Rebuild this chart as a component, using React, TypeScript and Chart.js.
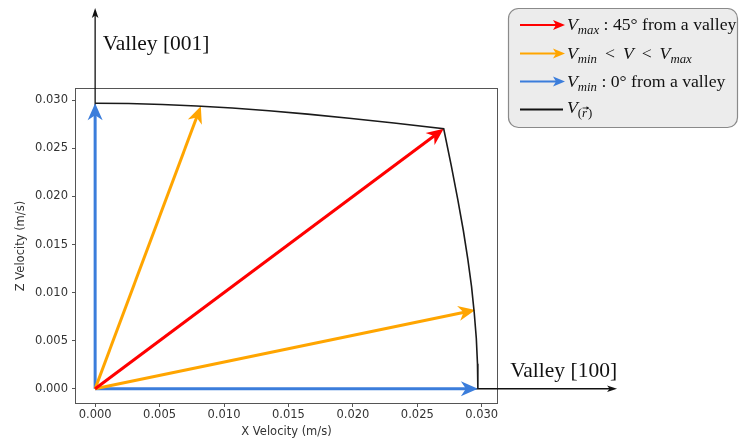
import React, { useEffect, useRef } from 'react';
import { Chart, registerables } from 'chart.js';

Chart.register(...registerables);

// ---------- data ----------
const AXIS_MIN = -0.001485;
const AXIS_MAX = 0.031185;
const TICK_STEP = 0.005;

const xAxisTitle = 'X Velocity (m/s)';
const zAxisTitle = 'Z Velocity (m/s)';

// V(r) boundary curve (from the [001] valley round to the [100] valley)
const curveX = [0, 0.0026, 0.00522, 0.00788, 0.01063, 0.01349, 0.01649, 0.01971, 0.02319, 0.02705,
  0.02764, 0.02814, 0.02857, 0.02892, 0.02921, 0.02942, 0.02958, 0.02967, 0.0297];
const curveZ = [0.0297, 0.02967, 0.02958, 0.02942, 0.02921, 0.02892, 0.02857, 0.02814, 0.02764, 0.02705,
  0.02319, 0.01971, 0.01649, 0.01349, 0.01063, 0.00788, 0.00522, 0.0026, 0];

// velocity arrows from the origin
const arrowNames = ['Vmax 45°', 'V mid (upper)', 'V mid (lower)', 'Vmin [001]', 'Vmin [100]'];
const arrowX = [0.02705, 0.0082, 0.0295, 0, 0.0297];
const arrowZ = [0.02705, 0.0294, 0.0082, 0.0297, 0];
const arrowColors = ['#ff0000', '#ffa500', '#ffa500', '#3b7ddb', '#3b7ddb'];

// valley direction axes
const valleyNames = ['Valley [001]', 'Valley [100]'];
const valleyX = [0, 0.0405];
const valleyZ = [0.0396, 0];

// legend
const legendColors = ['#ff0000', '#ffa500', '#3b7ddb', '#111111'];
const legendKinds = ['arrow', 'arrow', 'arrow', 'line'];
// run styles: r = roman, i = italic, s = italic subscript, v = vector subscript
const legendRuns: [string, string][][] = [
  [['V', 'i'], ['max', 's'], [' : 45° from a valley', 'r']],
  [['V', 'i'], ['min', 's'], [' \u2009<\u2009 ', 'r'], ['V', 'i'], [' \u2009<\u2009 ', 'r'], ['V', 'i'], ['max', 's']],
  [['V', 'i'], ['min', 's'], [' : 0° from a valley', 'r']],
  [['V', 'i'], ['r', 'v']],
];

// ---------- styling ----------
const SERIF = '"Liberation Serif", "DejaVu Serif", serif';
const SANS = '"DejaVu Sans", sans-serif';
const FRAME = '#555555';
const TEXT = '#333333';

function headDir(tip: any, prev: any) {
  const dx = tip.x - prev.x;
  const dy = tip.y - prev.y;
  const d = Math.hypot(dx, dy) || 1;
  const ux = dx / d, uy = dy / d;
  return { ux, uy, nx: -uy, ny: ux };
}

const arrowPlugin = {
  id: 'arrowHeads',
  beforeDatasetDraw(chart: any, args: any) {
    const ds = chart.data.datasets[args.index];
    const head = ds.arrowHead;
    if (!head) return;
    const pts = args.meta.data;
    const tip = pts[pts.length - 1];
    const g = headDir(tip, pts[0]);
    const lw = ds.borderWidth;
    const e = (head.len * (lw / 2 + 0.8)) / head.w + 1;
    const hw = lw;
    const ctx = chart.ctx;
    ctx.save();
    ctx.beginPath();
    ctx.rect(0, 0, chart.width, chart.height);
    ctx.moveTo(tip.x + g.ux * 3 + g.nx * hw, tip.y + g.uy * 3 + g.ny * hw);
    ctx.lineTo(tip.x + g.ux * 3 - g.nx * hw, tip.y + g.uy * 3 - g.ny * hw);
    ctx.lineTo(tip.x - g.ux * e - g.nx * hw, tip.y - g.uy * e - g.ny * hw);
    ctx.lineTo(tip.x - g.ux * e + g.nx * hw, tip.y - g.uy * e + g.ny * hw);
    ctx.closePath();
    ctx.clip('evenodd');
  },
  afterDatasetDraw(chart: any, args: any) {
    const ds = chart.data.datasets[args.index];
    const head = ds.arrowHead;
    if (!head) return;
    const ctx = chart.ctx;
    ctx.restore();
    const pts = args.meta.data;
    const tip = pts[pts.length - 1];
    const g = headDir(tip, pts[0]);
    const { len, w, notch } = head;
    ctx.save();
    ctx.beginPath();
    ctx.moveTo(tip.x, tip.y);
    ctx.lineTo(tip.x - g.ux * len + g.nx * w, tip.y - g.uy * len + g.ny * w);
    ctx.lineTo(tip.x - g.ux * (len - notch), tip.y - g.uy * (len - notch));
    ctx.lineTo(tip.x - g.ux * len - g.nx * w, tip.y - g.uy * len - g.ny * w);
    ctx.closePath();
    ctx.fillStyle = ds.borderColor;
    ctx.fill();
    ctx.restore();
  },
};

const framePlugin = {
  id: 'frame',
  beforeDatasetsDraw(chart: any) {
    const { left, right, top, bottom } = chart.chartArea;
    const ctx = chart.ctx;
    ctx.save();
    ctx.strokeStyle = FRAME;
    ctx.lineWidth = 1;
    ctx.strokeRect(left - 0.5, top - 0.5, right - left + 1, bottom - top + 1);
    ctx.restore();
  },
};

const valleyLabelPlugin = {
  id: 'valleyLabels',
  afterDatasetsDraw(chart: any) {
    const xs = chart.scales.x;
    const ys = chart.scales.y;
    const ctx = chart.ctx;
    const oy = ys.getPixelForValue(0);
    ctx.save();
    ctx.fillStyle = '#111111';
    ctx.font = `21.5px ${SERIF}`;
    ctx.textBaseline = 'alphabetic';
    const t1x = xs.getPixelForValue(valleyX[0]);
    const t1y = ys.getPixelForValue(valleyZ[0]);
    ctx.textAlign = 'left';
    ctx.fillText(valleyNames[0], t1x + 7.5, t1y + 42);
    const t2x = xs.getPixelForValue(valleyX[1]);
    ctx.textAlign = 'right';
    ctx.fillText(valleyNames[1], t2x, oy - 11.5);
    ctx.restore();
  },
};

function roundRect(ctx: any, x: number, y: number, w: number, h: number, r: number) {
  ctx.beginPath();
  ctx.moveTo(x + r, y);
  ctx.lineTo(x + w - r, y);
  ctx.arcTo(x + w, y, x + w, y + r, r);
  ctx.lineTo(x + w, y + h - r);
  ctx.arcTo(x + w, y + h, x + w - r, y + h, r);
  ctx.lineTo(x + r, y + h);
  ctx.arcTo(x, y + h, x, y + h - r, r);
  ctx.lineTo(x, y + r);
  ctx.arcTo(x, y, x + r, y, r);
  ctx.closePath();
}

const legendPlugin = {
  id: 'mathLegend',
  afterDraw(chart: any) {
    const ctx = chart.ctx;
    ctx.save();
    roundRect(ctx, 508.5, 8.5, 229, 119, 10);
    ctx.fillStyle = '#ececec';
    ctx.fill();
    ctx.strokeStyle = '#8a8a8a';
    ctx.lineWidth = 1.2;
    ctx.stroke();

    const MAIN = 17.7;
    const SUB = 12.8;
    const baselines = [30, 59, 87, 113];
    const markerY = [25, 53.5, 81.5, 109.5];
    const x0 = 520, x1 = 565;
    for (let i = 0; i < legendRuns.length; i++) {
      const color = legendColors[i];
      const y = markerY[i];
      ctx.strokeStyle = color;
      ctx.fillStyle = color;
      ctx.lineWidth = 2;
      ctx.beginPath();
      if (legendKinds[i] === 'arrow') {
        ctx.moveTo(x0, y);
        ctx.lineTo(x1 - 6, y);
        ctx.stroke();
        ctx.beginPath();
        ctx.moveTo(x1, y);
        ctx.lineTo(x1 - 12, y - 5);
        ctx.lineTo(x1 - 9, y);
        ctx.lineTo(x1 - 12, y + 5);
        ctx.closePath();
        ctx.fill();
      } else {
        ctx.moveTo(x0, y);
        ctx.lineTo(x1 - 2, y);
        ctx.stroke();
      }
      let x = 567;
      const base = baselines[i];
      ctx.fillStyle = '#111111';
      ctx.textBaseline = 'alphabetic';
      ctx.textAlign = 'left';
      for (const [text, style] of legendRuns[i]) {
        if (style === 'r') {
          ctx.font = `${MAIN}px ${SERIF}`;
          ctx.fillText(text, x, base);
          x += ctx.measureText(text).width;
        } else if (style === 'i') {
          ctx.font = `italic ${MAIN}px ${SERIF}`;
          ctx.fillText(text, x, base);
          x += ctx.measureText(text).width;
        } else if (style === 's') {
          ctx.font = `italic ${SUB}px ${SERIF}`;
          ctx.fillText(text, x, base + 4);
          x += ctx.measureText(text).width;
        } else if (style === 'v') {
          const sb = base + 4;
          ctx.font = `${SUB}px ${SERIF}`;
          ctx.fillText('(', x, sb);
          x += ctx.measureText('(').width;
          ctx.font = `italic ${SUB}px ${SERIF}`;
          const rw = ctx.measureText(text).width;
          ctx.fillText(text, x, sb);
          const ay = sb - 9;
          ctx.strokeStyle = '#111111';
          ctx.lineWidth = 0.8;
          ctx.beginPath();
          ctx.moveTo(x + 0.5, ay);
          ctx.lineTo(x + rw + 1.5, ay);
          ctx.stroke();
          ctx.beginPath();
          ctx.moveTo(x + rw + 2, ay);
          ctx.lineTo(x + rw - 0.5, ay - 1.8);
          ctx.lineTo(x + rw - 0.5, ay + 1.8);
          ctx.closePath();
          ctx.fillStyle = '#111111';
          ctx.fill();
          x += rw + 1;
          ctx.font = `${SUB}px ${SERIF}`;
          ctx.fillText(')', x, sb);
          x += ctx.measureText(')').width;
        }
      }
    }
    ctx.restore();
  },
};

export default function App() {
  const ref = useRef<HTMLCanvasElement>(null);
  useEffect(() => {
    const canvas = ref.current;
    if (!canvas) return;

    const valleyDatasets = valleyNames.map((name, i) => ({
      label: name,
      data: [{ x: 0, y: 0 }, { x: valleyX[i], y: valleyZ[i] }],
      borderColor: '#111111',
      borderWidth: 1.3,
      showLine: true,
      pointRadius: 0,
      clip: false,
      order: 3,
      arrowHead: { len: 10, w: 3.3, notch: 2.5 },
    }));

    const arrowDatasets = arrowNames.map((name, i) => ({
      label: name,
      data: [{ x: 0, y: 0 }, { x: arrowX[i], y: arrowZ[i] }],
      borderColor: arrowColors[i],
      borderWidth: 3,
      showLine: true,
      pointRadius: 0,
      clip: false,
      order: 2,
      borderCapStyle: 'butt',
      arrowHead: { len: 17, w: 7.5, notch: 5 },
    }));

    const curveDataset = {
      label: 'V(r)',
      data: curveX.map((x, i) => ({ x, y: curveZ[i] })),
      borderColor: '#1a1a1a',
      borderWidth: 1.6,
      showLine: true,
      pointRadius: 0,
      clip: false,
      order: 1,
      tension: 0,
    };

    const tickFont = { family: SANS, size: 11.5 };

    const chart = new Chart(canvas, {
      type: 'scatter',
      data: { datasets: [curveDataset, ...arrowDatasets, ...valleyDatasets] as any },
      options: {
        responsive: false,
        animation: false,
        devicePixelRatio: 1,
        events: [],
        layout: { padding: { left: 0, right: 242, top: 89, bottom: 0 } },
        plugins: {
          legend: { display: false },
          tooltip: { enabled: false },
          title: { display: false },
        },
        scales: {
          x: {
            type: 'linear',
            position: 'bottom',
            min: AXIS_MIN,
            max: AXIS_MAX,
            afterFit: (s: any) => { s.height = 36; },
            grid: { drawOnChartArea: false, drawTicks: true, tickLength: 4, color: FRAME, lineWidth: 1 },
            border: { display: false },
            ticks: {
              stepSize: TICK_STEP,
              includeBounds: false,
              padding: 1,
              color: TEXT,
              font: tickFont,
              maxRotation: 0,
              autoSkip: false,
              callback: (v: any) => Number(v).toFixed(3),
            },
            title: { display: true, text: xAxisTitle, color: TEXT, font: tickFont, padding: { top: 0, bottom: 0 } },
          },
          y: {
            type: 'linear',
            position: 'left',
            min: AXIS_MIN,
            max: AXIS_MAX,
            afterFit: (s: any) => { s.width = 76; },
            grid: { drawOnChartArea: false, drawTicks: true, tickLength: 4, color: FRAME, lineWidth: 1 },
            border: { display: false },
            ticks: {
              stepSize: TICK_STEP,
              includeBounds: false,
              padding: 4,
              color: TEXT,
              font: tickFont,
              autoSkip: false,
              callback: (v: any) => Number(v).toFixed(3),
            },
            title: { display: true, text: zAxisTitle, color: TEXT, font: tickFont, padding: { top: 14, bottom: 0 } },
          },
        },
      } as any,
      plugins: [framePlugin, arrowPlugin, valleyLabelPlugin, legendPlugin],
    });
    return () => chart.destroy();
  }, []);

  return (
    <div style={{ position: 'absolute', left: 0, top: 0, width: 739, height: 439, background: '#ffffff' }}>
      <canvas ref={ref} width={739} height={439} style={{ display: 'block', width: 739, height: 439 }} />
    </div>
  );
}
